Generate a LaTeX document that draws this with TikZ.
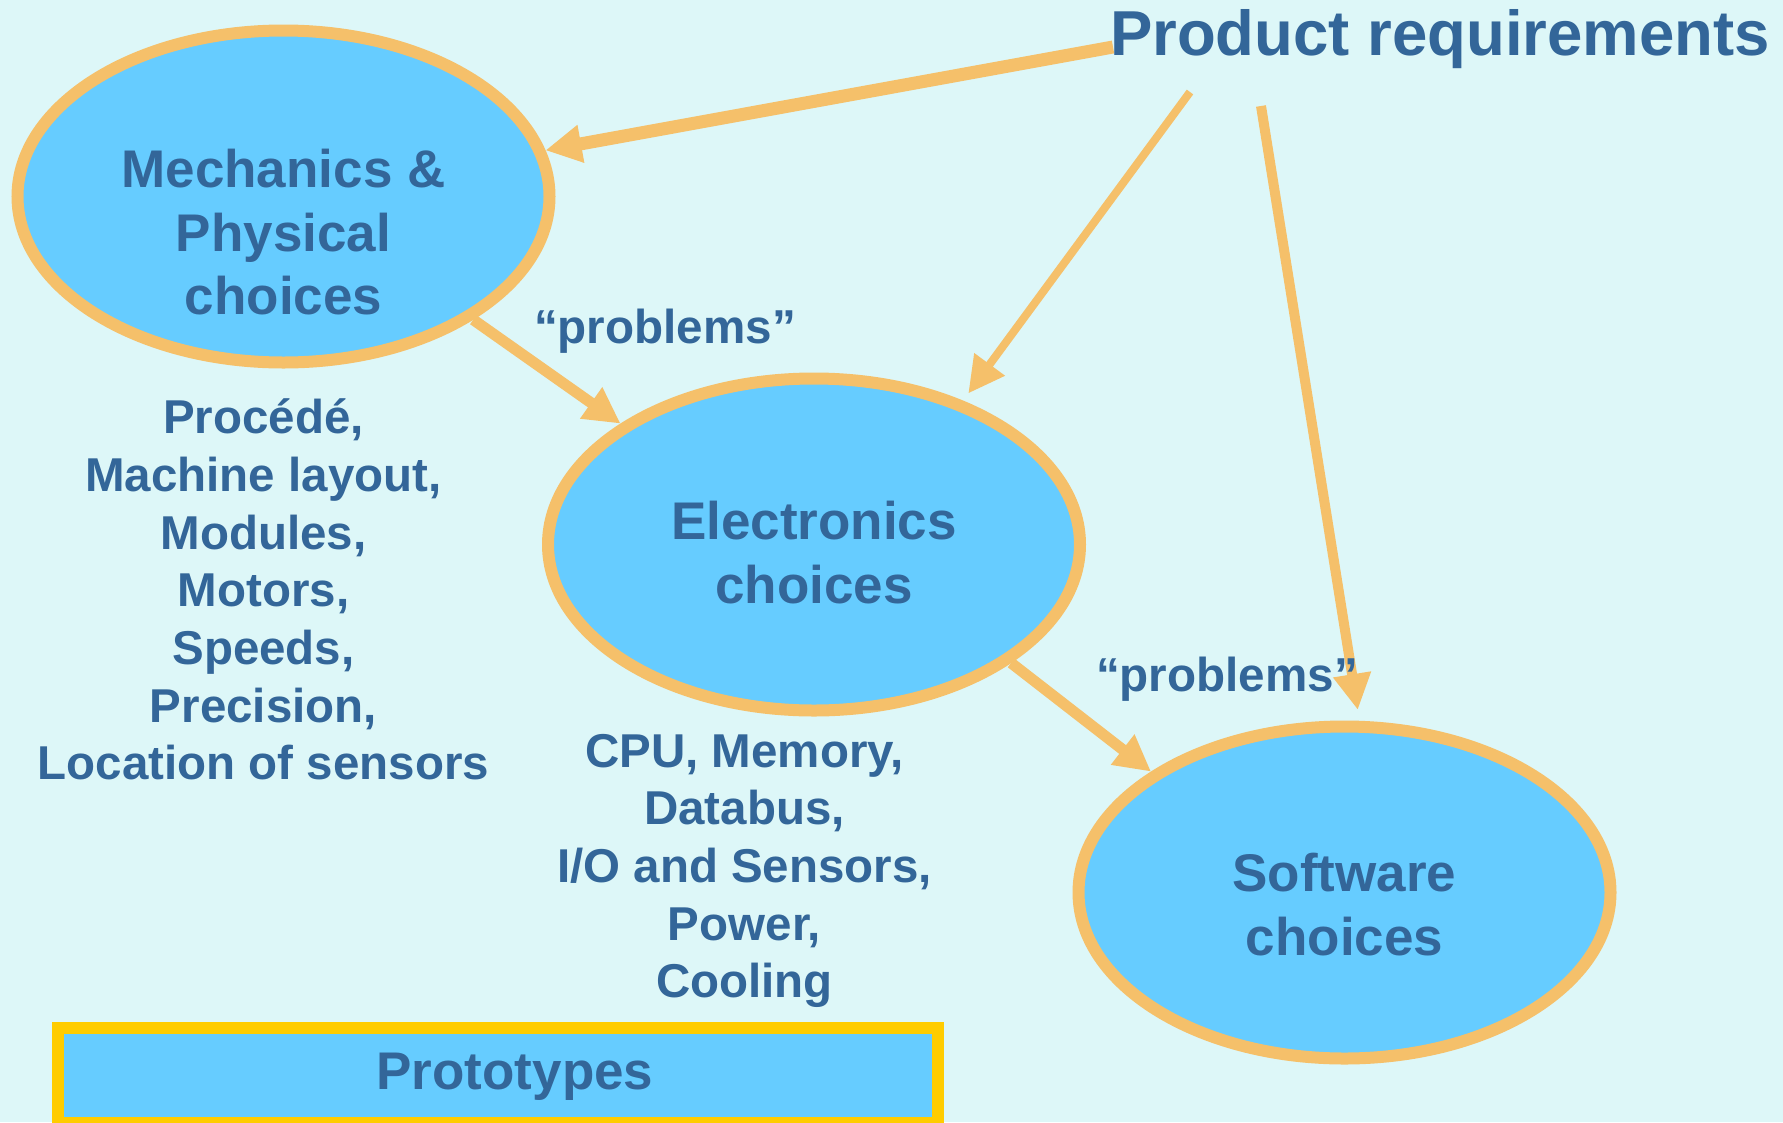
\documentclass[tikz,border=0pt]{standalone}
\usepackage{fontspec}
\setmainfont{Liberation Sans}
\usetikzlibrary{shapes.geometric,arrows.meta}
\definecolor{bgcyan}{HTML}{DDF7F8}
\definecolor{bubblefill}{HTML}{66CCFF}
\definecolor{rim}{HTML}{F5C06A}
\definecolor{ink}{HTML}{336699}
\definecolor{gold}{HTML}{FFCC00}

\begin{document}
\begin{tikzpicture}[x=1pt,y=-1pt,
  bubble/.style={ellipse, draw=rim, fill=bubblefill, line width=12pt,
    minimum width=532pt, minimum height=332pt, inner sep=0pt},
  bigtext/.style={text=ink, font=\bfseries\fontsize{53}{63.5}\selectfont,
    align=center, inner sep=0pt},
  listtext/.style={text=ink, font=\bfseries\fontsize{47.5}{57.67}\selectfont,
    align=center, inner sep=0pt},
  quotetext/.style={text=ink, font=\bfseries\fontsize{47.6}{57}\selectfont,
    inner sep=0pt},
  reqtext/.style={text=ink, font=\bfseries\fontsize{63.5}{76}\selectfont,
    inner sep=0pt},
  protobox/.style={draw=gold, fill=bubblefill, line width=12pt,
    minimum width=880pt, minimum height=95pt, inner sep=0pt},
  flow/.style={draw=rim, -{Triangle[length=36pt,width=36pt]}},
]
\useasboundingbox (0,0) rectangle (1783,1122);
\fill[bgcyan] (0,0) rectangle (1783,1122);

% the three design domains
\node[bubble] (mech) at (283.5,196.5) {};
\node[bubble] (elec) at (814,544.5) {};
\node[bubble] (soft) at (1344.5,892.5) {};

% prototypes bar
\node[protobox] (proto) at (498,1075.5) {};
\node[bigtext, anchor=base] (protolbl) at (515,1089) {Prototypes};

% start points of the requirement arrows
\coordinate (r1) at (1113,47);
\coordinate (r2) at (1190,92);
\coordinate (r3) at (1261,106);

% connectors
\draw[flow, line width=13pt] (r1) -- (mech.10);
\draw[flow, line width=8pt, shorten >=9pt] (r2) -- (elec.44);
\draw[flow, line width=10pt, shorten >=11pt] (r3) -- (soft.85);
\draw[flow, line width=11pt] (mech.-33) -- (elec.148);
\draw[flow, line width=11pt] (elec.-31) -- (soft.148);

% texts
\node[reqtext, anchor=base] (req) at (1440,55) {Product requirements};
\node[bigtext] (mechlbl) at (283.5,232.5) {Mechanics \&\\Physical\\choices};
\node[bigtext] (eleclbl) at (814,552.7) {Electronics\\choices};
\node[bigtext] (softlbl) at (1344.5,904.4) {Software\\choices};
\node[quotetext, anchor=base] (prob1) at (665,343) {“problems”};
\node[quotetext, anchor=base] (prob2) at (1227,691) {“problems”};
\node[listtext] (mechlist) at (263.5,589.5)
  {Procédé,\\Machine layout,\\Modules,\\Motors,\\Speeds,\\Precision,\\Location of sensors};
\node[listtext] (eleclist) at (744.5,871)
  {CPU, Memory,\\Databus,\\I/O and Sensors,\\Power,\\Cooling};
\end{tikzpicture}
\end{document}
